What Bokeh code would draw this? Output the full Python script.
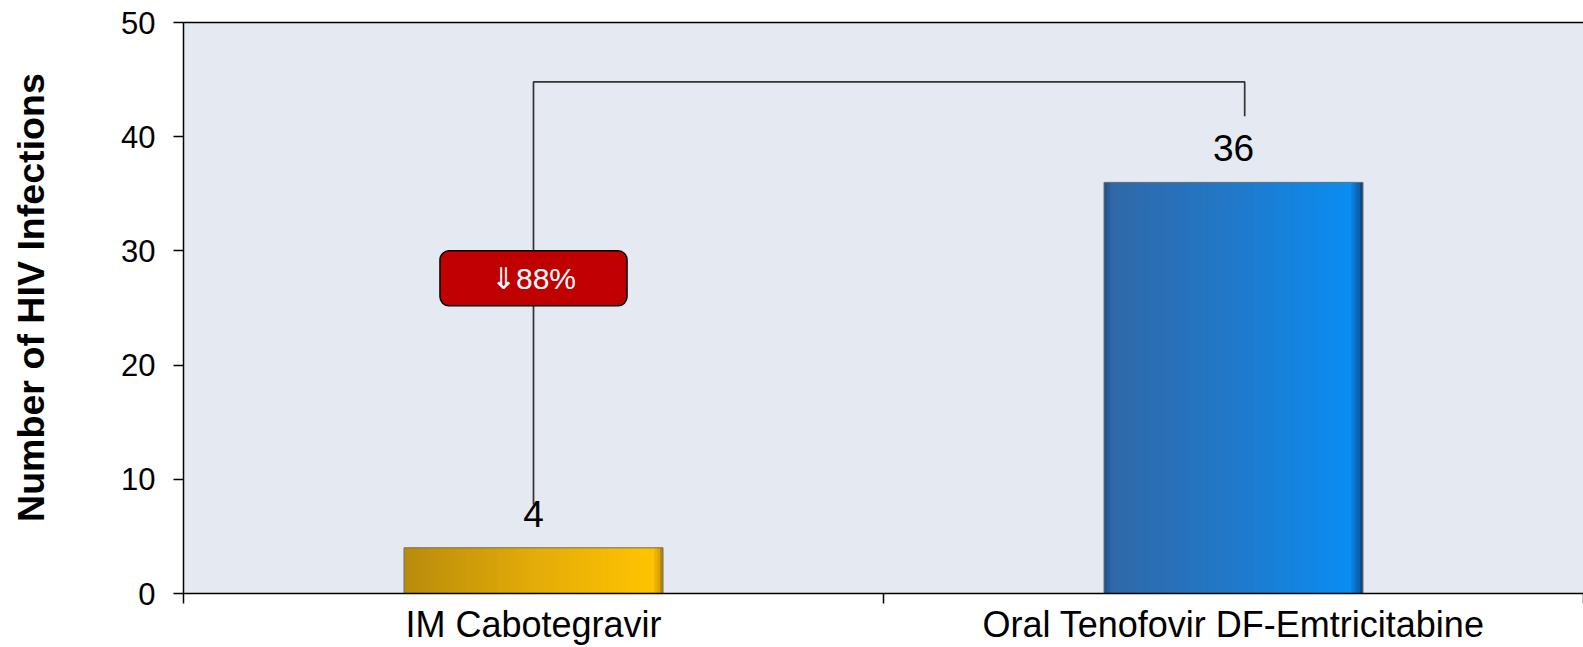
import numpy as np
from bokeh.plotting import figure
from bokeh.models import (Range1d, FixedTicker, LinearAxis, ColumnDataSource,
                          LabelSet, Label)
from bokeh.core.properties import value
from bokeh.embed import file_html
from bokeh.resources import INLINE

# ---- data ----
categories = ["IM Cabotegravir", "Oral Tenofovir DF-Emtricitabine"]
infections = [4, 36]
y_ticks = [0, 10, 20, 30, 40, 50]
reduction_label = "\u21d388%"
y_title = "Number of HIV Infections"
bracket_top = 44.8

FONT = "Liberation Sans"
BAR_W = 0.37
N = 90

# gradient colour stops (fraction across bar, colour) per bar
stops = [
    [(0.0, "#B88B0B"), (0.5, "#E3AC09"), (0.96, "#FFC300"), (0.985, "#D9A300"), (1.0, "#A07800")],
    [(0.0, "#1F4F86"), (0.03, "#3068A8"), (0.5, "#2179C9"), (0.95, "#0A8DF2"), (0.985, "#0C5EA8"), (1.0, "#0E3C66")],
]


def hex2rgb(h):
    h = h.lstrip("#")
    return np.array([int(h[i:i + 2], 16) for i in (0, 2, 4)], dtype=float)


def interp(st, f):
    fr = [s[0] for s in st]
    cols = np.array([hex2rgb(s[1]) for s in st])
    rgb = [np.interp(f, fr, cols[:, k]) for k in range(3)]
    return "#%02x%02x%02x" % tuple(int(round(v)) for v in rgb)


centers = [i + 0.5 for i in range(len(categories))]

lefts, rights, tops, cols = [], [], [], []
sw = BAR_W / N
for c, v, st in zip(centers, infections, stops):
    x0 = c - BAR_W / 2
    x1 = c + BAR_W / 2
    for k in range(N):
        f = (k + 0.5) / N
        lefts.append(x0 + sw * k)
        rights.append(min(x0 + sw * (k + 2), x1))
        tops.append(v)
        cols.append(interp(st, f))
slices = ColumnDataSource(dict(left=lefts, right=rights, top=tops, color=cols))
bars = ColumnDataSource(dict(x=centers, top=infections, label=[str(v) for v in infections]))

p = figure(width=1583, height=647, output_backend="svg", toolbar_location=None,
           x_range=Range1d(0, 2.0), y_range=Range1d(0, 50),
           min_border_left=183, min_border_right=0, min_border_top=22, min_border_bottom=0,
           background_fill_color="#E4E9F2", border_fill_color="white",
           outline_line_color=None)
p.grid.visible = False

# bars (gradient slices + outline)
p.quad(left="left", right="right", top="top", bottom=0, color="color", source=slices,
       line_color=None)
p.vbar(x="x", top="top", bottom=0, width=BAR_W, source=bars, fill_alpha=0,
       line_color="#6E6E6E", line_width=1)

# value labels
p.add_layout(LabelSet(x="x", y="top", text="label", source=bars, text_align="center",
                      text_baseline="alphabetic", y_offset=21, text_font=value(FONT),
                      text_font_size="37px", text_color="black"))

# bracket
p.line(x=[centers[0], centers[0], centers[1] + 0.016, centers[1] + 0.016],
       y=[infections[0] + 3.8, bracket_top, bracket_top, infections[1] + 5.8],
       line_color="#333333", line_width=1.7)

# reduction box
p.add_layout(Label(x=centers[0], y=27.6, text=reduction_label, text_align="center",
                   text_baseline="middle", text_color="white", text_font=FONT,
                   text_font_size="30px", background_fill_color="#C00000",
                   border_line_color="black", border_line_width=1.5, border_radius=9,
                   padding=dict(left=51, right=51, top=11, bottom=11)))

# y axis
ya = p.yaxis[0]
ya.ticker = FixedTicker(ticks=y_ticks)
ya.minor_tick_line_color = None
ya.major_tick_in = 0
ya.major_tick_out = 10
ya.major_tick_line_color = "black"
ya.major_tick_line_width = 1.5
ya.axis_line_color = "black"
ya.axis_line_width = 1.5
ya.major_label_text_font = FONT
ya.major_label_text_font_size = "31px"
ya.major_label_text_color = "black"
ya.major_label_standoff = 18
ya.axis_label = "\u00a0\u00a0" + y_title
ya.axis_label_text_font = FONT
ya.axis_label_text_font_size = "37.6px"
ya.axis_label_text_font_style = "bold"
ya.axis_label_text_color = "black"
ya.axis_label_standoff = 66

# x axis
xa = p.xaxis[0]
xa.ticker = FixedTicker(ticks=centers, minor_ticks=[0, 1, 2])
xa.major_label_overrides = {c: n for c, n in zip(centers, categories)}
xa.major_tick_line_color = None
xa.major_tick_in = 0
xa.major_tick_out = 0
xa.minor_tick_in = 0
xa.minor_tick_out = 10
xa.minor_tick_line_color = "black"
xa.minor_tick_line_width = 1.5
xa.axis_line_color = "black"
xa.axis_line_width = 1.5
xa.major_label_text_font = FONT
xa.major_label_text_font_size = "36px"
xa.major_label_text_color = "black"
xa.major_label_standoff = 0

# top border line
top_axis = LinearAxis(ticker=FixedTicker(ticks=[]), major_label_text_font_size="0px",
                      axis_line_color="black", axis_line_width=1.5,
                      major_tick_line_color=None, minor_tick_line_color=None)
p.add_layout(top_axis, "above")

open("out.html", "w").write(file_html(p, INLINE))
